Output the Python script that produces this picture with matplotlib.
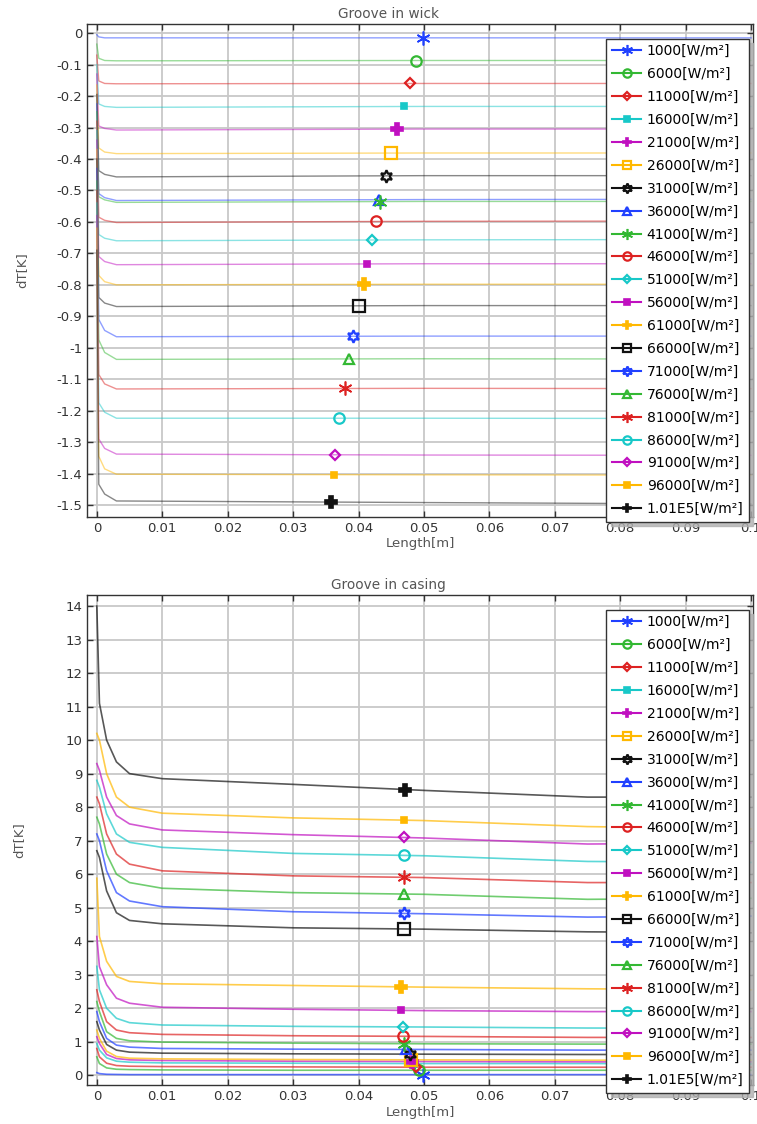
import numpy as np
import matplotlib
matplotlib.use("Agg")
import matplotlib.pyplot as plt
from matplotlib.lines import Line2D
from matplotlib.ticker import FormatStrFormatter, MultipleLocator

plt.rcParams['font.family'] = ['DejaVu Sans']
plt.rcParams['axes.unicode_minus'] = False

# heat flux series
labels = ["1000[W/m²]", "6000[W/m²]", "11000[W/m²]", "16000[W/m²]", "21000[W/m²]",
          "26000[W/m²]", "31000[W/m²]", "36000[W/m²]", "41000[W/m²]", "46000[W/m²]",
          "51000[W/m²]", "56000[W/m²]", "61000[W/m²]", "66000[W/m²]", "71000[W/m²]",
          "76000[W/m²]", "81000[W/m²]", "86000[W/m²]", "91000[W/m²]", "96000[W/m²]",
          "1.01E5[W/m²]"]

# ---- Groove in wick: dT[K] at these lengths [m]
x_wick = [0, 0.0003, 0.0012, 0.003, 0.05, 0.1]
wick = [
    [-0.005, -0.012, -0.015, -0.015, -0.015, -0.015],
    [-0.035, -0.080, -0.087, -0.088, -0.087, -0.087],
    [-0.07, -0.152, -0.160, -0.161, -0.160, -0.160],
    [-0.10, -0.225, -0.233, -0.236, -0.233, -0.233],
    [-0.13, -0.295, -0.303, -0.308, -0.305, -0.305],
    [-0.165, -0.365, -0.378, -0.383, -0.381, -0.381],
    [-0.195, -0.437, -0.449, -0.457, -0.453, -0.453],
    [-0.225, -0.510, -0.523, -0.532, -0.529, -0.528],
    [-0.25, -0.520, -0.530, -0.538, -0.535, -0.535],
    [-0.28, -0.585, -0.595, -0.602, -0.598, -0.597],
    [-0.31, -0.640, -0.652, -0.660, -0.657, -0.656],
    [-0.34, -0.710, -0.726, -0.736, -0.733, -0.733],
    [-0.37, -0.770, -0.790, -0.800, -0.798, -0.798],
    [-0.40, -0.840, -0.858, -0.869, -0.866, -0.866],
    [-0.43, -0.910, -0.945, -0.965, -0.963, -0.963],
    [-0.47, -0.975, -1.015, -1.037, -1.035, -1.036],
    [-0.50, -1.085, -1.115, -1.131, -1.129, -1.130],
    [-0.54, -1.175, -1.205, -1.224, -1.224, -1.225],
    [-0.58, -1.290, -1.320, -1.338, -1.341, -1.342],
    [-0.62, -1.345, -1.385, -1.402, -1.404, -1.405],
    [-0.69, -1.434, -1.465, -1.487, -1.492, -1.497],
]
wick_marker_x = [0.0499, 0.0488, 0.0479, 0.0469, 0.0459, 0.0450, 0.0442, 0.0432, 0.0433,
                 0.0427, 0.0420, 0.0413, 0.0408, 0.0401, 0.0392, 0.0386, 0.0380, 0.0370,
                 0.0364, 0.0362, 0.0358]

# ---- Groove in casing
x_casing = [0, 0.0004, 0.0015, 0.003, 0.005, 0.01, 0.03, 0.05, 0.075, 0.1]
casing = [
    [0.08, 0.05, 0.03, 0.025, 0.02, 0.02, 0.02, 0.02, 0.02, 0.02],
    [0.55, 0.35, 0.22, 0.18, 0.17, 0.16, 0.15, 0.15, 0.15, 0.15],
    [0.80, 0.55, 0.36, 0.29, 0.27, 0.26, 0.25, 0.24, 0.24, 0.24],
    [0.95, 0.75, 0.52, 0.42, 0.39, 0.37, 0.36, 0.35, 0.35, 0.34],
    [1.15, 0.95, 0.62, 0.50, 0.46, 0.44, 0.42, 0.41, 0.40, 0.40],
    [1.35, 1.10, 0.72, 0.56, 0.51, 0.49, 0.47, 0.46, 0.45, 0.45],
    [1.60, 1.35, 0.92, 0.75, 0.69, 0.66, 0.64, 0.63, 0.62, 0.62],
    [1.90, 1.60, 1.10, 0.90, 0.84, 0.80, 0.78, 0.77, 0.75, 0.75],
    [2.20, 1.90, 1.30, 1.10, 1.03, 0.99, 0.96, 0.94, 0.93, 0.93],
    [2.55, 2.20, 1.60, 1.35, 1.27, 1.22, 1.18, 1.16, 1.13, 1.13],
    [3.25, 2.55, 2.00, 1.70, 1.57, 1.50, 1.46, 1.44, 1.41, 1.40],
    [4.14, 3.24, 2.70, 2.30, 2.15, 2.03, 1.97, 1.93, 1.90, 1.90],
    [5.88, 4.14, 3.40, 2.95, 2.80, 2.73, 2.68, 2.63, 2.58, 2.55],
    [6.70, 6.50, 5.50, 4.85, 4.62, 4.52, 4.40, 4.36, 4.28, 4.25],
    [7.20, 7.00, 6.10, 5.45, 5.20, 5.03, 4.88, 4.82, 4.72, 4.75],
    [7.70, 7.50, 6.60, 6.00, 5.75, 5.58, 5.45, 5.40, 5.25, 5.28],
    [8.30, 8.10, 7.20, 6.60, 6.30, 6.10, 5.95, 5.90, 5.75, 5.75],
    [8.80, 8.60, 7.80, 7.20, 6.95, 6.80, 6.62, 6.55, 6.38, 6.35],
    [9.30, 9.10, 8.30, 7.75, 7.50, 7.32, 7.18, 7.08, 6.90, 6.93],
    [10.2, 10.0, 9.00, 8.30, 8.00, 7.82, 7.68, 7.60, 7.42, 7.35],
    [14.0, 11.1, 10.0, 9.35, 9.00, 8.85, 8.68, 8.50, 8.30, 8.30],
]
casing_marker_x = [0.0499, 0.0492, 0.0488, 0.0484, 0.0482, 0.0480, 0.0478, 0.0472, 0.0470,
                   0.0468, 0.0468, 0.0465, 0.0465, 0.0470, 0.0470, 0.0470, 0.0470, 0.0470,
                   0.0470, 0.0470, 0.0471]

# comsol-like cycles
colors = ['#2040ff', '#33b833', '#dd2222', '#18c8c8', '#c010c0', '#ffb800', '#111111']
markers = [(6, 2, 0), 'o', 'D', 's', 'P', 's', (6, 1, 0), '^']
msizes = [10, 7.5, 5.5, 5, 8, 8, 9, 7.5]
filled = [True, False, False, True, True, False, False, False]


def style(i):
    c = colors[i % 7]
    k = i % 8
    return dict(color=c, marker=markers[k], ms=msizes[k],
                mfc=c if filled[k] else 'none', mec=c, mew=1.6 if not filled[k] else 1.2)


def draw(ax, xs, data, mx, alpha, lw):
    handles = []
    for i, ys in enumerate(data):
        st = style(i)
        ax.plot(xs, ys, color=st['color'], lw=lw, alpha=alpha, zorder=2)
        my = np.interp(mx[i], xs, ys)
        ax.plot([mx[i]], [my], ls='none', zorder=3, marker=st['marker'], ms=st['ms'],
                mfc=st['mfc'], mec=st['mec'], mew=st['mew'])
        handles.append(Line2D([], [], color=st['color'], lw=1.5, marker=st['marker'],
                              ms=st['ms'] * 0.8, mfc=st['mfc'], mec=st['mec'], mew=st['mew']))
    leg = ax.legend(handles, labels, loc='upper right', bbox_to_anchor=(0.994, 0.97),
                    borderaxespad=0, fontsize=10, labelspacing=0.64, handlelength=2.1,
                    handletextpad=0.4, borderpad=0.4, fancybox=False,
                    shadow={'color': '#b0b0b0', 'alpha': 0.8, 'ox': 3, 'oy': -3},
                    framealpha=1, edgecolor='#333333')
    leg.get_frame().set_linewidth(1.0)
    leg.set_zorder(10)


def setup(ax, title):
    ax.grid(True, color='#c8c8c8', lw=1.3, zorder=0)
    ax.set_axisbelow(True)
    ax.tick_params(direction='in', top=True, right=True, length=4, width=1,
                   labelsize=9.5, labelcolor='#333333', color='#333333')
    ax.xaxis.set_major_locator(MultipleLocator(0.01))
    ax.xaxis.set_major_formatter(FormatStrFormatter('%g'))
    ax.yaxis.set_major_formatter(FormatStrFormatter('%g'))
    for s in ax.spines.values():
        s.set_color('#333333')
        s.set_linewidth(1)
    ax.set_title(title, fontsize=9.8, color='#555555', x=0.452, pad=4)
    ax.set_xlabel('Length[m]', fontsize=9.5, color='#555555', labelpad=2)
    ax.set_ylabel('dT[K]', fontsize=9.5, color='#555555')
    ax.set_xlim(-0.0015, 0.1003)


W, H = 757, 1124
fig = plt.figure(figsize=(W / 100, H / 100), dpi=100)
ax1 = fig.add_axes([87 / W, 1 - 516.7 / H, 666 / W, 492.7 / H])
ax2 = fig.add_axes([87 / W, 1 - 1085 / H, 666 / W, 490 / H])

setup(ax1, 'Groove in wick')
ax1.set_ylim(-1.537, 0.029)
ax1.yaxis.set_major_locator(MultipleLocator(0.1))
draw(ax1, x_wick, wick, wick_marker_x, 0.5, 1.0)
ax1.yaxis.labelpad = 20

setup(ax2, 'Groove in casing')
ax2.set_ylim(-0.29, 14.33)
ax2.yaxis.set_major_locator(MultipleLocator(1))
draw(ax2, x_casing, casing, casing_marker_x, 0.7, 1.2)
ax2.yaxis.labelpad = 29

fig.savefig('out.png', dpi=100)
